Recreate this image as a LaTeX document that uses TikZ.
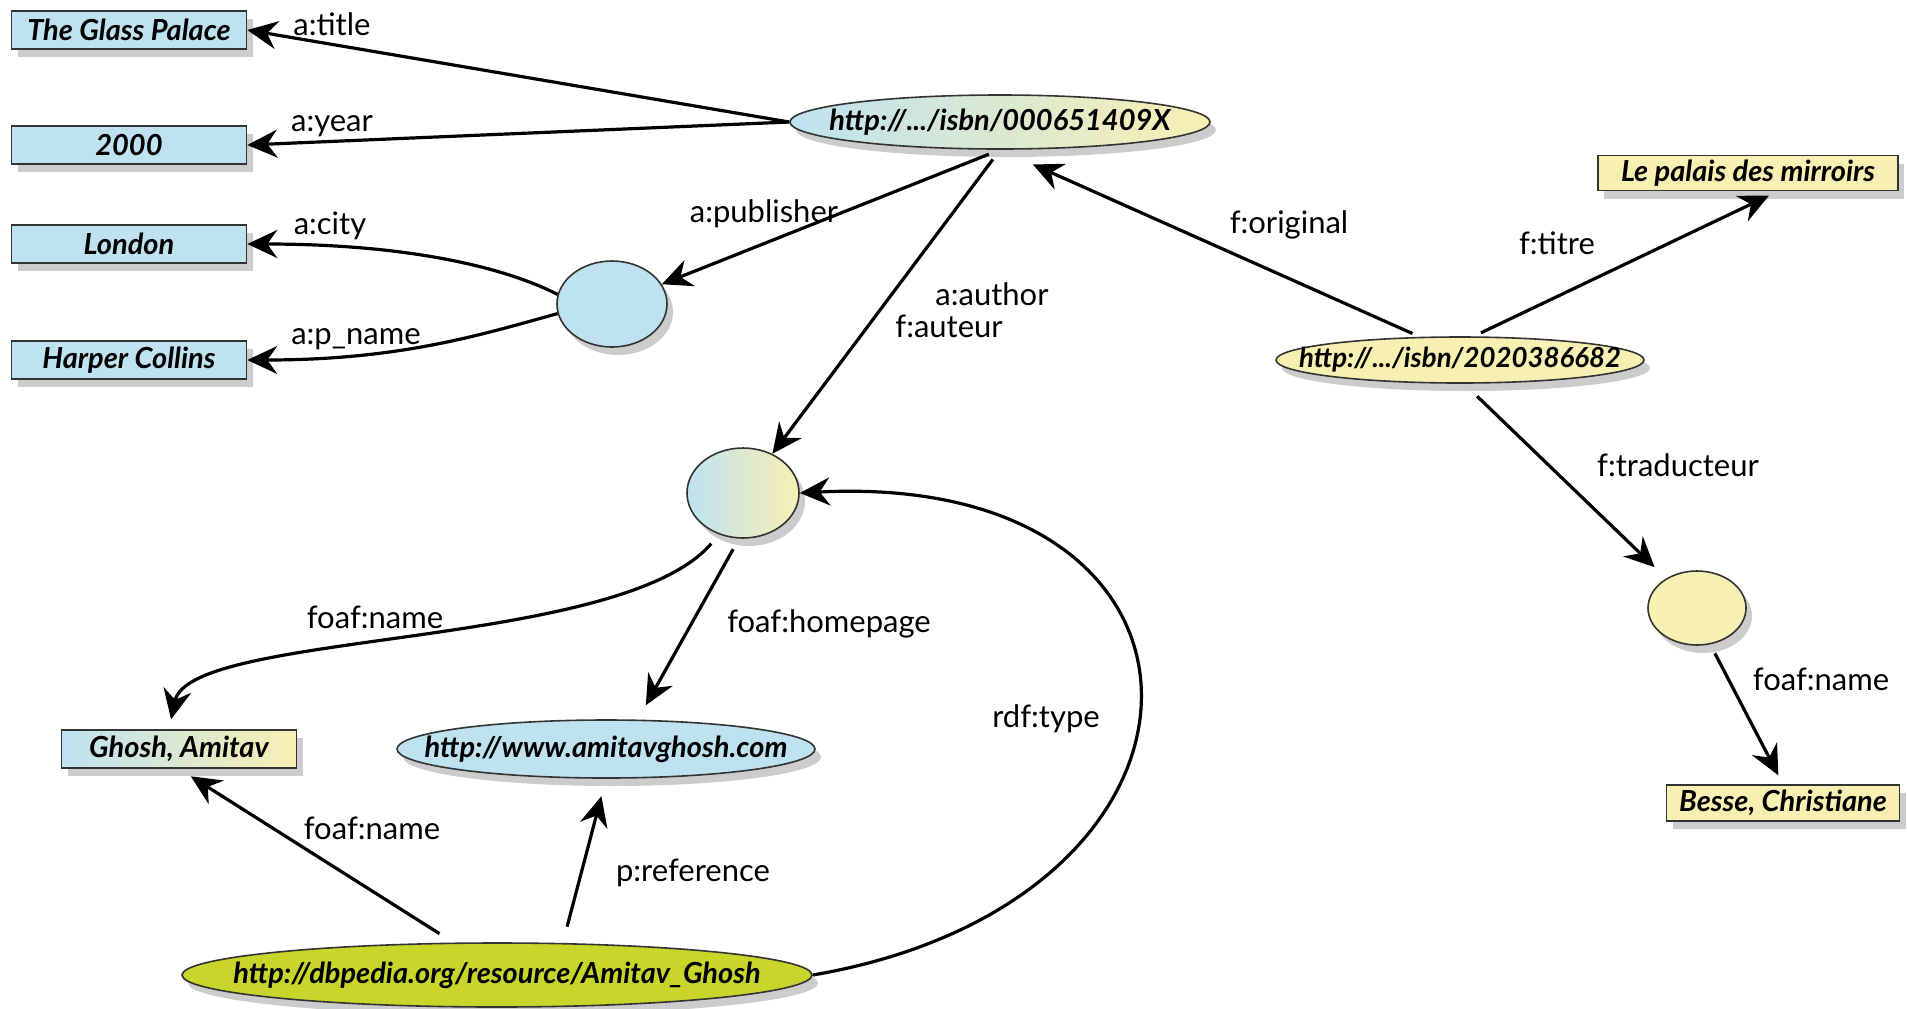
\documentclass[tikz,border=0pt]{standalone}
\usepackage{fontspec}
\setmainfont{Lato}
\usetikzlibrary{shapes.geometric,arrows.meta,shadows}
\definecolor{litblue}{RGB}{190,226,240}
\definecolor{lityellow}{RGB}{248,240,178}
\definecolor{dbgreen}{RGB}{200,214,44}
\newcommand{\uri}[1]{\makebox[0pt]{#1}}
\tikzset{
  shade/.style={drop shadow={shadow xshift=3pt,shadow yshift=-4pt,opacity=0.4}},
  lit/.style={rectangle,draw=black!80,line width=0.8pt,minimum width=117.5pt,minimum height=19pt,inner sep=2pt,font=\fontsize{14.5}{16}\selectfont\bfseries\itshape,shade},
  res/.style={ellipse,draw=black!80,line width=0.8pt,inner sep=0pt,font=\fontsize{14.5}{16}\selectfont\bfseries\itshape,shade},
  lbl/.style={font=\fontsize{15.5}{18}\selectfont},
  link/.style={line width=1.6pt,-{Stealth[length=15pt,width=14pt,inset=5pt]}}
}
\begin{document}
\begin{tikzpicture}[x=0.5pt,y=-0.5pt]
\useasboundingbox (0,0) rectangle (1907,1008);
\node[lit,fill=litblue] (title) at (129,30) {The Glass Palace};
\node[lit,fill=litblue] (year) at (129,145) {2000};
\node[lit,fill=litblue] (city) at (129,244) {London};
\node[lit,fill=litblue] (pname) at (129,360) {Harper Collins};
\node[res,left color=litblue,right color=lityellow,minimum width=210pt,minimum height=27pt] (isbn1) at (1000,122) {\uri{http://.../isbn/000651409X}};
\node[res,fill=litblue,minimum width=55pt,minimum height=43pt] (pub) at (612,304) {};
\node[res,left color=litblue,right color=lityellow,minimum width=56pt,minimum height=45pt] (author) at (743,493) {};
\node[res,fill=lityellow,minimum width=184pt,minimum height=23pt,font=\fontsize{13.8}{16}\selectfont\bfseries\itshape] (isbn2) at (1460,360) {\uri{http://.../isbn/2020386682}};
\node[lit,fill=lityellow,minimum width=150pt,minimum height=17.5pt] (palais) at (1748,173) {Le palais des mirroirs};
\node[res,fill=lityellow,minimum width=49pt,minimum height=37pt] (trans) at (1697,608) {};
\node[lit,fill=lityellow,minimum width=116.5pt,minimum height=18pt] (besse) at (1783,803) {Besse, Christiane};
\node[lit,left color=litblue,middle color=litblue,right color=lityellow] (ghosh) at (179,749) {Ghosh, Amitav};
\node[res,fill=litblue,minimum width=209pt,minimum height=29pt] (home) at (606,749) {\uri{http://www.amitavghosh.com}};
\node[res,fill=dbgreen,minimum width=315pt,minimum height=32pt] (dbp) at (497,975) {\uri{http://dbpedia.org/resource/Amitav\_Ghosh}};

\draw[link] (isbn1.west) -- (title.east) node[lbl] at (332,24) {a:title};
\draw[link] (isbn1.west) -- (year.east) node[lbl] at (332,126) {a:year};
\draw[link] (pub.170) .. controls (500,265) and (400,244) .. (city.east) node[lbl] at (330,226) {a:city};
\draw[link] (pub.190) .. controls (480,335) and (400,360) .. (pname.east) node[lbl] at (356,339) {a:p\_name};
\draw[link,shorten <=6pt] (isbn1.south) -- (pub) node[lbl] at (764,214) {a:publisher};
\draw[link,shorten <=6pt] (isbn1.south) -- (author) node[lbl] at (992,294) {a:author} node[lbl] at (949,326) {f:auteur};
\draw[link,shorten <=4pt,shorten >=18pt] (isbn2.150) -- (isbn1.south) node[lbl] at (1289,225) {f:original};
\draw[link,shorten <=4pt,shorten >=5pt] (isbn2.60) -- ([xshift=15pt]palais.south) node[lbl] at (1557,243) {f:titre};
\draw[link,shorten <=9pt,shorten >=8pt] (isbn2.-80) -- (trans) node[lbl] at (1678,465) {f:traducteur};
\draw[link,shorten <=5pt,shorten >=5pt] (trans.-70) -- (besse.north) node[lbl] at (1821,679) {foaf:name};
\draw[link,shorten <=6pt,shorten >=5pt] (author.-120) .. controls (620,650) and (190,630) .. ([xshift=-5pt]ghosh.north) node[lbl] at (375,617) {foaf:name};
\draw[link,shorten <=6pt,shorten >=8pt] (author.-95) -- ([xshift=16pt]home.north) node[lbl] at (829,624) {foaf:homepage};
\draw[link,shorten <=8pt,shorten >=7pt] ([xshift=-22pt]dbp.north) -- (ghosh.south) node[lbl] at (372,828) {foaf:name};
\draw[link,shorten <=8pt,shorten >=9pt] ([xshift=33pt]dbp.north) -- (home.south) node[lbl] at (693,873) {p:reference};
\draw[link] (dbp.east) .. controls (1250,900) and (1250,470) .. (author.east) node[lbl] at (1046,719) {rdf:type};
\end{tikzpicture}
\end{document}
